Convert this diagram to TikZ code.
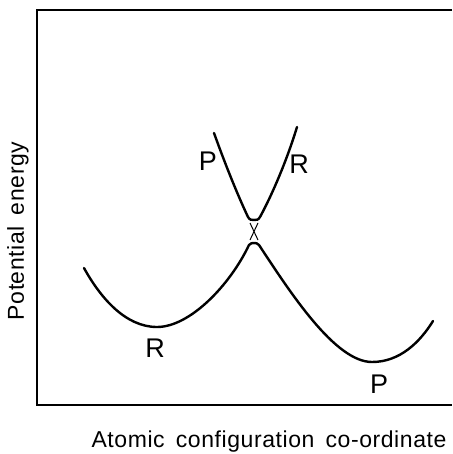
\documentclass[tikz,border=0pt]{standalone}
\usepackage{fontspec}
\setmainfont{Liberation Sans}
\newfontfamily\pefont[LetterSpace=2.5, WordSpace=1.6]{Liberation Sans}
\usetikzlibrary{positioning}
\tikzset{
  frameline/.style={line width=0.7pt, black},
  pecurve/.style={line width=1.2pt, black, line cap=round},
  gapmark/.style={line width=0.5pt, black},
  pelabel/.style={font=\fontsize{13.5}{14}\selectfont, inner sep=0pt},
  axislabel/.style={font=\pefont\fontsize{11.5}{13}\selectfont, inner sep=0pt}
}
\begin{document}
\begin{tikzpicture}[x=0.5pt, y=-0.5pt]
  \useasboundingbox (0,0) rectangle (452,454);
  % frame, open on the right
  \coordinate (tr) at (452,10);
  \coordinate (tl) at (37,10);
  \coordinate (bl) at (37,405);
  \coordinate (br) at (452,405);
  \draw[frameline] (tr) -- (tl) -- (bl) -- (br);
  % lower surface: R well, avoided crossing, P well
  \draw[pecurve] (84,268) .. controls (100,297) and (125,327) .. (157,327)
    .. controls (190,327) and (230,285) .. (249,245)
    .. controls (251,243) and (252,243) .. (254,243)
    .. controls (256,243) and (257,243) .. (259,245)
    .. controls (290,292) and (335,362) .. (372,362)
    .. controls (400,362) and (420,342) .. (433,321);
  % upper surface
  \draw[pecurve] (214,133) .. controls (228,172) and (240,200) .. (248,217)
    .. controls (250,220) and (251,220) .. (254,220)
    .. controls (257,220) and (258,220) .. (260,217)
    .. controls (272,195) and (287,160) .. (297,127);
  \draw[gapmark] (250,223) -- (258,240) (258,223) -- (250,240);
  % labels
  \node[pelabel] (pup) at (208,161) {P};
  \node[pelabel] (rup) at (299,164) {R};
  \node[pelabel] (rlow) at (155,348) {R};
  \node[pelabel] (plow) at (379,384) {P};
  \node[axislabel] (xlab) at (269,442) {Atomic configuration co-ordinate};
  \node[axislabel, rotate=90] (ylab) at (18,231) {Potential energy};
\end{tikzpicture}
\end{document}
